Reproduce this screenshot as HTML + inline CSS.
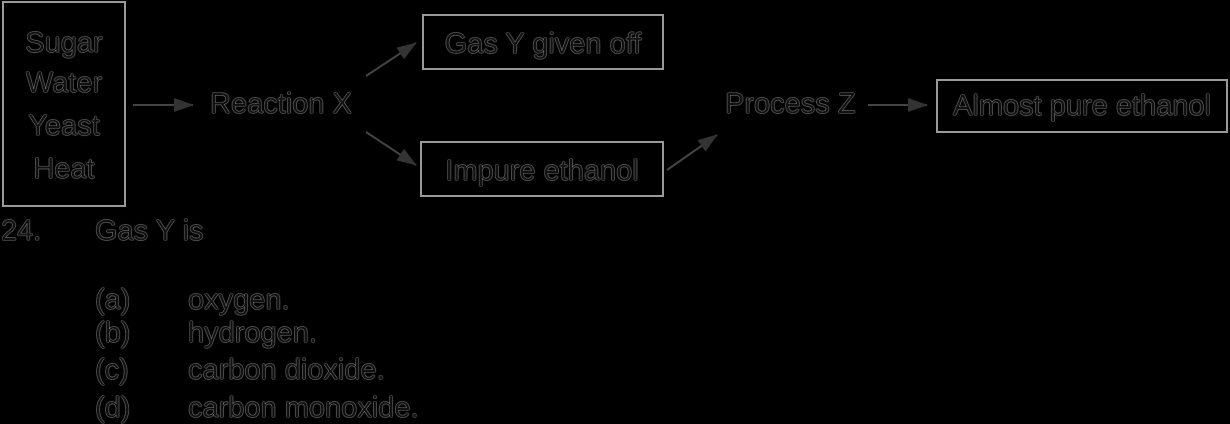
<!DOCTYPE html>
<html><head><style>
html,body{margin:0;padding:0;background:#000;}
body{width:1230px;height:422px;position:relative;overflow:hidden;font-family:"Liberation Sans",Arial,sans-serif;}
.t{position:absolute;color:#111;font-size:29px;line-height:1;white-space:nowrap;text-shadow:0 0 1px #ccc,0 0 1px #ccc;}
.b{position:absolute;border:2px solid #999;box-sizing:border-box;}
svg{position:absolute;left:0;top:0;}
</style></head><body>
<div class="b" style="left:2px;top:1px;width:124px;height:206px;"></div>
<div class="t" style="left:2px;width:124px;text-align:center;top:29px;">Sugar</div>
<div class="t" style="left:2px;width:124px;text-align:center;top:69px;">Water</div>
<div class="t" style="left:2px;width:124px;text-align:center;top:112px;">Yeast</div>
<div class="t" style="left:2px;width:124px;text-align:center;top:155px;">Heat</div>
<div class="t" style="left:210px;top:90px;">Reaction X</div>
<div class="b" style="left:422px;top:14px;width:242px;height:56px;"></div>
<div class="t" style="left:422px;width:242px;text-align:center;top:30px;">Gas Y given off</div>
<div class="b" style="left:420px;top:141px;width:244px;height:56px;"></div>
<div class="t" style="left:420px;width:244px;text-align:center;top:157px;">Impure ethanol</div>
<div class="t" style="left:725px;top:90px;">Process Z</div>
<div class="b" style="left:936px;top:79px;width:292px;height:54px;"></div>
<div class="t" style="left:936px;width:292px;text-align:center;top:92px;">Almost pure ethanol</div>
<svg width="1230" height="422">
<defs>
<marker id="m" markerWidth="20" markerHeight="14" refX="19" refY="7" orient="auto" markerUnits="userSpaceOnUse"><path d="M0,0 L20,7 L0,14 Z" fill="#333"/></marker></defs>
<g stroke="#444" stroke-width="2" fill="none">
<line x1="133" y1="105" x2="193" y2="105" marker-end="url(#m)"/>
<line x1="366" y1="76" x2="416" y2="43" marker-end="url(#m)"/>
<line x1="366" y1="132" x2="416" y2="165" marker-end="url(#m)"/>
<line x1="667" y1="170" x2="717" y2="135" marker-end="url(#m)"/>
<line x1="868" y1="105" x2="927" y2="105" marker-end="url(#m)"/>
</g></svg>
<div class="t" style="left:1px;top:217px;">24.</div>
<div class="t" style="left:95px;top:217px;">Gas Y is</div>
<div class="t" style="left:95px;top:286px;">(a)</div>
<div class="t" style="left:188px;top:286px;">oxygen.</div>
<div class="t" style="left:95px;top:319px;">(b)</div>
<div class="t" style="left:188px;top:319px;">hydrogen.</div>
<div class="t" style="left:95px;top:356px;">(c)</div>
<div class="t" style="left:188px;top:356px;">carbon dioxide.</div>
<div class="t" style="left:95px;top:394px;">(d)</div>
<div class="t" style="left:188px;top:394px;">carbon monoxide.</div>
</body></html>
